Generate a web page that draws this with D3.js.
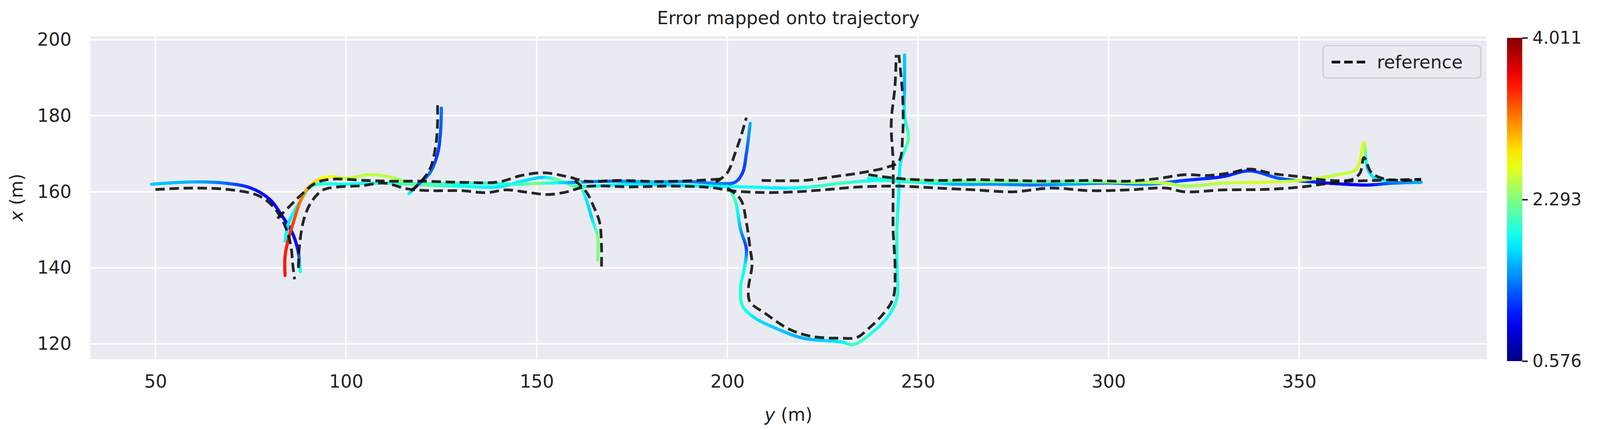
<!DOCTYPE html>
<html>
<head>
<meta charset="utf-8">
<script src="https://cdn.jsdelivr.net/npm/d3@7"></script>
<style>
  body { margin: 0; background: #fff; }
  text { font-family: "DejaVu Sans", sans-serif; fill: #222; }
</style>
</head>
<body>
<svg id="chart" width="4110" height="1099"></svg>
<script>
// data: [y (m), x (m)] for reference, [y, x, error] for estimate
const xTicks = [50, 100, 150, 200, 250, 300, 350]
const yTicks = [120, 140, 160, 180, 200]
const cbarTicks = [0.576, 2.293, 4.011]
const errMin = 0.576, errMax = 4.011

const refLeftDip = [[50,160.6],[60,161],[70,160.5],[77,159],[81,156],[84,151],[85.5,146],[86,141],[86.5,137]]
const refLower = [[87.5,140],[87.8,146],[89,153],[91,157.5],[94,160.5],[98,161.3],[104,161.6],[110,162.3],[116,160.8],[122,160.3],[130,160.3],[137,159.8],[142,160.5],[148,159.8],[153,159.3],[158,160],[163,161.4],[175,161.3],[185,161.5],[195,161.2],[202,160.2],[210,159.8],[218,160],[225,160.5],[235,161.3],[245,161.5],[255,161],[265,160.5],[275,160],[285,161],[295,160.3],[305,160.5],[315,161],[320,160],[330,160.5],[340,160.6],[350,161.2],[356,162],[362,162.7],[370,163],[382,163.3]]
const refUpper = [[82,153],[85,156],[88,159],[92,162.3],[96,163.3],[105,163],[112,162.8],[120,162.8],[130,162.5],[140,162.6],[146,164.3],[152,165],[158,164],[163,162.8],[172,163],[182,162.7],[192,163],[199,163.4]]
const refBranch200 = [[197,162.5],[200,165],[202,170],[204,176],[205,179.5]]
const refBranch245 = [[209,163],[220,163],[228,164],[235,165],[242,166.5],[245,168],[246,175],[246,185],[245,196]]
const refRight = [[237,164.5],[245,163.5],[255,163],[265,163.2],[275,163],[285,162.8],[295,163],[305,162.8],[313,163.5],[320,164.5],[326,164.3],[332,165],[337,166],[343,164.8],[350,164],[358,163],[364,163.3],[366,165],[367,169],[369,165],[372,163.5],[377,163],[382,163.2]]
const refBranch124 = [[117,160.3],[119,162],[122,166],[123.5,172],[124,178],[124,183]]
const refBranch167 = [[160,163],[163,160],[165,156],[166.5,152],[167,146],[167,140]]
const refLoop = [[200,161],[203.5,158],[205,152],[206,145],[206.5,141],[205.5,134],[206,131],[210,128],[216,124],[222,122],[230,121.5],[234,121.7],[237,124],[241,128],[243.5,132],[244,140],[243.5,150],[243.5,160],[243.5,168],[243,178],[244,188],[244.3,196]]

const estLeftDip = [[49,162,1.7],[60,162.6,1.6],[68,162.3,1.4],[75,161,1.1],[80,158,1.0],[83,154,1.0],[86,149,1.0],[87.5,144,1.1],[87.8,141,1.6],[88,139,2.0]]
const estRed = [[84,138,3.5],[84,143,3.5],[85,148,3.45],[86.5,153,3.35],[88,157.5,3.2],[90,161,3.0],[93,163.3,2.8],[96,164,2.7],[100,163.5,2.5],[106,164.5,2.5],[112,163.8,2.5],[117,162.3,2.2],[125,162.2,2.1],[135,162.3,2.0],[145,162,2.0],[150,162.2,2.3],[160,162.5,1.5],[170,162.8,1.4],[180,162.6,1.7],[190,162.7,1.4],[198,162.2,1.5],[202,162.5,1.3],[204,165,1.2],[205,170,1.3],[206,178,1.6]]
const estMain = [[84,147,1.9],[85,152,1.8],[88,157.5,1.9],[91,161.5,2.0],[100,162,1.9],[110,162.3,2.0],[120,161.8,2.2],[130,161.5,1.9],[140,161.3,1.8],[147,163,1.8],[152,163.8,1.7],[156,163,2.3],[160,161.5,2.1],[165,161.5,1.9],[175,162,1.8],[185,161.8,1.7],[195,161.5,1.9],[205,161.3,1.9],[215,161,1.8],[222,161.3,2.0],[230,162.3,2.1],[240,163,1.9],[250,162.5,2.0],[260,162,1.6],[270,162,1.5],[280,161.8,1.4],[290,162,1.6],[300,162.3,1.4],[310,162,1.5],[320,163,1.2],[330,164,1.1],[337,165.5,1.2],[345,163.5,1.3],[355,162.5,1.1],[362,162,1.0],[368,161.8,1.0],[375,162.3,1.4],[382,162.5,1.6]]
const estRight = [[237,163.5,1.9],[250,163,2.2],[270,162.7,2.3],[290,162.7,2.2],[305,162.5,2.4],[315,162.3,2.5],[320,161.5,2.4],[330,162.3,2.5],[340,162.5,2.6],[350,163,2.5],[360,164.5,2.5],[365,166,2.55],[367,173,2.6],[368,166,1.7],[370,163.5,1.8],[375,163,1.8]]
const estBranch124 = [[116.5,159.5,1.9],[119,162,1.3],[122,165,1.4],[124,170,1.2],[124.8,176,1.3],[125,182,1.4]]
const estBranch166 = [[161,163,2.4],[163,158,1.8],[164.5,153,1.7],[166,148,2.3],[166,142,2.3]]
const estLoop = [[200,161.5,2.0],[202,158,2.1],[203.5,150,1.6],[205,145,1.2],[204.5,140,1.9],[203.5,135,2.0],[204,130,2.0],[207,127,1.8],[213,124,1.7],[220,121.5,1.6],[230,120.5,1.8],[233,119.8,2.1],[238,123,2.0],[242,127,1.9],[244.5,132,2.0],[244.5,140,1.9],[244.5,150,2.0],[245,160,1.9],[245.5,168,1.8],[247.5,174,2.2],[246.5,180,1.9],[246.5,188,1.6],[246.5,196,1.7]]

const refSegs = [refLeftDip, refLower, refUpper, refBranch200, refBranch245, refRight, refBranch124, refBranch167, refLoop]
const estSegs = [estLeftDip, estMain, estRight, estRed, estBranch124, estBranch166, estLoop]

const margin = { left: 231, right: 304, top: 93, bottom: 179 }
const W = 4110, H = 1099
const svg = d3.select("#chart")

const x = d3.scaleLinear().domain([32.9, 399.2]).range([margin.left, W - margin.right])
const y = d3.scaleLinear().domain([116.0, 200.9]).range([H - margin.bottom, margin.top])

// jet colormap
const jet = t => {
  const c = v => Math.round(255 * Math.max(0, Math.min(1, v)))
  return `rgb(${c(1.5 - Math.abs(4 * t - 3))},${c(1.5 - Math.abs(4 * t - 2))},${c(1.5 - Math.abs(4 * t - 1))})`
}
const errScale = d3.scaleLinear().domain([errMin, errMax]).range([0, 1]).clamp(true)

svg.append("rect").attr("x", margin.left).attr("y", margin.top)
  .attr("width", W - margin.left - margin.right).attr("height", H - margin.top - margin.bottom)
  .attr("fill", "#eaeaf2")

const grid = svg.append("g").attr("stroke", "#fff").attr("stroke-width", 4)
grid.selectAll(".gx").data(xTicks).join("line")
  .attr("x1", d => x(d)).attr("x2", d => x(d)).attr("y1", margin.top).attr("y2", H - margin.bottom)
grid.selectAll(".gy").data(yTicks).join("line").attr("class", "gy")
  .attr("y1", d => y(d)).attr("y2", d => y(d)).attr("x1", margin.left).attr("x2", W - margin.right)

svg.append("g").attr("transform", `translate(0,${H - margin.bottom})`)
  .call(d3.axisBottom(x).tickValues(xTicks).tickSize(0).tickPadding(40))
  .call(g => g.select(".domain").remove())
  .selectAll("text").style("font-size", "46px")
svg.append("g").attr("transform", `translate(${margin.left},0)`)
  .call(d3.axisLeft(y).tickValues(yTicks).tickSize(0).tickPadding(48))
  .call(g => g.select(".domain").remove())
  .selectAll("text").style("font-size", "46px")

svg.append("text").attr("x", (margin.left + W - margin.right) / 2).attr("y", 1078)
  .attr("text-anchor", "middle").style("font-size", "46px")
  .html('<tspan font-style="italic">y</tspan> (m)')
svg.append("text").attr("transform", "translate(58,506) rotate(-90)")
  .attr("text-anchor", "middle").style("font-size", "46px")
  .html('<tspan font-style="italic">x</tspan> (m)')
svg.append("text").attr("x", 2018).attr("y", 62).attr("text-anchor", "middle")
  .style("font-size", "46px").text("Error mapped onto trajectory")

const plot = svg.append("g")
const line = d3.line().x(d => x(d[0])).y(d => y(d[1])).curve(d3.curveCatmullRom)

// estimate: sample the smooth curve and colour each piece by interpolated error
estSegs.forEach(seg => {
  const tmp = plot.append("path").attr("d", line(seg)).attr("fill", "none")
  const node = tmp.node(), total = node.getTotalLength()
  const cum = [0]
  for (let i = 1; i < seg.length; i++)
    cum.push(cum[i - 1] + Math.hypot(x(seg[i][0]) - x(seg[i - 1][0]), y(seg[i][1]) - y(seg[i - 1][1])))
  const errAt = f => {
    const s = f * cum[cum.length - 1]
    let i = d3.bisectRight(cum, s) - 1
    i = Math.max(0, Math.min(seg.length - 2, i))
    const t = (s - cum[i]) / (cum[i + 1] - cum[i] || 1)
    return seg[i][2] + t * (seg[i + 1][2] - seg[i][2])
  }
  const n = Math.ceil(total / 6)
  const pts = d3.range(n + 1).map(k => node.getPointAtLength(total * k / n))
  tmp.remove()
  plot.append("g").selectAll("line").data(d3.range(n)).join("line")
    .attr("x1", k => pts[k].x).attr("y1", k => pts[k].y)
    .attr("x2", k => pts[k + 1].x).attr("y2", k => pts[k + 1].y)
    .attr("stroke", k => jet(errScale(errAt((k + 0.5) / n))))
    .attr("stroke-width", 8).attr("stroke-linecap", "round")
})

plot.selectAll(".ref").data(refSegs).join("path").attr("class", "ref")
  .attr("d", line).attr("fill", "none").attr("stroke", "#111")
  .attr("stroke-width", 7).attr("stroke-dasharray", "24,12").attr("opacity", 0.9)

// legend
const lg = svg.append("g").attr("transform", "translate(3387,117)")
lg.append("rect").attr("width", 404).attr("height", 83).attr("rx", 10)
  .attr("fill", "#eaeaf2").attr("stroke", "#ccc").attr("stroke-width", 3)
lg.append("line").attr("x1", 22).attr("x2", 108).attr("y1", 42).attr("y2", 42)
  .attr("stroke", "#111").attr("stroke-width", 7).attr("stroke-dasharray", "22,10")
lg.append("text").attr("x", 138).attr("y", 58).style("font-size", "46px").text("reference")

// colorbar
const cb = { x: 3858, w: 39, top: 97, bottom: 925 }
const defs = svg.append("defs")
const grad = defs.append("linearGradient").attr("id", "jet").attr("x1", 0).attr("x2", 0).attr("y1", 1).attr("y2", 0)
d3.range(0, 1.001, 0.05).forEach(t => grad.append("stop").attr("offset", t).attr("stop-color", jet(t)))
svg.append("rect").attr("x", cb.x).attr("y", cb.top).attr("width", cb.w).attr("height", cb.bottom - cb.top).attr("fill", "url(#jet)")
const cbScale = d3.scaleLinear().domain([errMin, errMax]).range([cb.bottom, cb.top])
svg.append("g").attr("transform", `translate(${cb.x + cb.w},0)`)
  .call(d3.axisRight(cbScale).tickValues(cbarTicks).tickFormat(d3.format(".3f")).tickSize(14).tickPadding(12))
  .call(g => g.select(".domain").remove())
  .call(g => g.selectAll("line").attr("stroke", "#222").attr("stroke-width", 4))
  .selectAll("text").style("font-size", "44px")
</script>
</body>
</html>
